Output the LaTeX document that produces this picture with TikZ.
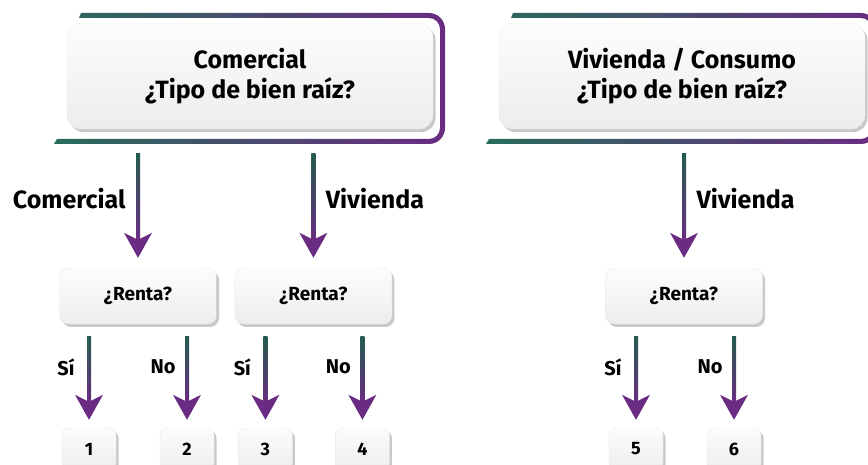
\documentclass[tikz,border=0pt]{standalone}
\usepackage{fontspec}
\setmainfont{Fira Sans}
\usetikzlibrary{calc, positioning, shadows}

\definecolor{verde}{RGB}{40,108,90}
\definecolor{morado}{RGB}{106,44,130}

\begin{document}
\begin{tikzpicture}[
        x=1pt, y=1pt,
        every node/.style={font=\bfseries},
        grbox/.style={rounded corners=14pt, top color=gray!2, bottom color=gray!14, draw=gray!18,
            drop shadow={shadow xshift=2.5pt, shadow yshift=-3pt, fill=gray!60, opacity=.7}},
        titlebox/.style={grbox, minimum width=366pt, minimum height=106pt, align=center,
            font=\bfseries\fontsize{25}{30}\selectfont},
        rentabox/.style={grbox, rounded corners=9pt, minimum width=157pt, minimum height=56pt,
            font=\bfseries\fontsize{19}{21}\selectfont},
        numbox/.style={grbox, rounded corners=7pt, minimum width=54pt, minimum height=42pt,
            font=\bfseries\fontsize{18}{20}\selectfont},
        biglbl/.style={font=\bfseries\fontsize{25}{28}\selectfont},
        smalllbl/.style={font=\bfseries\fontsize{20}{22}\selectfont},
        gradstem/.style={top color=verde!85!black, bottom color=morado},
        marco/.pic={
            \shade[left color=verde, right color=morado]
                (-169,63) -- (179,63) arc[start angle=90, end angle=0, radius=16]
                -- (195,-52) arc[start angle=0, end angle=-90, radius=16]
                -- (-196,-68) -- (-193,-63) -- (179,-63)
                arc[start angle=-90, end angle=0, radius=11]
                -- (190,47) arc[start angle=0, end angle=90, radius=11]
                -- (-171,58) -- cycle;
        }
    ]
    \useasboundingbox (0,0) rectangle (868,465);
    \clip (0,0) rectangle (868,465);

    % top boxes
    \node[titlebox] (comercial) at (250,389) {Comercial\\¿Tipo de bien raíz?};
    \node[titlebox] (vivienda) at (682,389) {Vivienda / Consumo\\¿Tipo de bien raíz?};
    \pic at (comercial.center) {marco};
    \pic at (vivienda.center) {marco};

    % second level
    \node[rentabox] (renta1) at (138,169) {¿Renta?};
    \node[rentabox, right=18pt of renta1] (renta2) {¿Renta?};
    \node[rentabox] (renta3) at (684,169) {¿Renta?};

    % results
    \node[numbox] (num1) at ($(renta1.center)+(-49,-153)$) {1};
    \node[numbox] (num2) at ($(renta1.center)+(49,-153)$) {2};
    \node[numbox] (num3) at ($(renta2.center)+(-48,-153)$) {3};
    \node[numbox] (num4) at ($(renta2.center)+(49,-153)$) {4};
    \node[numbox] (num5) at ($(renta3.center)+(-48,-153)$) {5};
    \node[numbox] (num6) at ($(renta3.center)+(50,-153)$) {6};

    % arrows
    \foreach \von/\nach in {comercial/renta1, comercial/renta2, vivienda/renta3}{
        \shade[gradstem] ($(\von.south -| \nach.north)+(-2,-24)$) rectangle ($(\nach.north)+(2,28)$);
        \fill[morado] ($(\nach.north)+(0,10)$) -- ++(-14,25) -- ++(14,-7) -- ++(14,7) -- cycle;
    }
    \foreach \von/\nach in {renta1/num1, renta1/num2, renta2/num3, renta2/num4, renta3/num5, renta3/num6}{
        \shade[gradstem] ($(\von.south -| \nach.north)+(-2,-12)$) rectangle ($(\nach.north)+(2,26)$);
        \fill[morado] ($(\nach.north)+(0,8)$) -- ++(-14,25) -- ++(14,-7) -- ++(14,7) -- cycle;
    }

    % labels
    \node[biglbl, anchor=east] (lcom) at ($(comercial.south -| renta1.north)+(-9,-69)$) {Comercial};
    \node[biglbl, anchor=west] (lviv1) at ($(comercial.south -| renta2.north)+(9,-69)$) {Vivienda};
    \node[biglbl, anchor=west] (lviv2) at ($(vivienda.south -| renta3.north)+(9,-69)$) {Vivienda};

    \node[smalllbl, anchor=east] (si1) at ($(renta1.south -| num1.north)+(-11,-43)$) {Sí};
    \node[smalllbl, anchor=east] (no1) at ($(renta1.south -| num2.north)+(-8,-43)$) {No};
    \node[smalllbl, anchor=east] (si2) at ($(renta2.south -| num3.north)+(-11,-43)$) {Sí};
    \node[smalllbl, anchor=east] (no2) at ($(renta2.south -| num4.north)+(-8,-43)$) {No};
    \node[smalllbl, anchor=east] (si3) at ($(renta3.south -| num5.north)+(-11,-43)$) {Sí};
    \node[smalllbl, anchor=east] (no3) at ($(renta3.south -| num6.north)+(-8,-43)$) {No};
\end{tikzpicture}
\end{document}
